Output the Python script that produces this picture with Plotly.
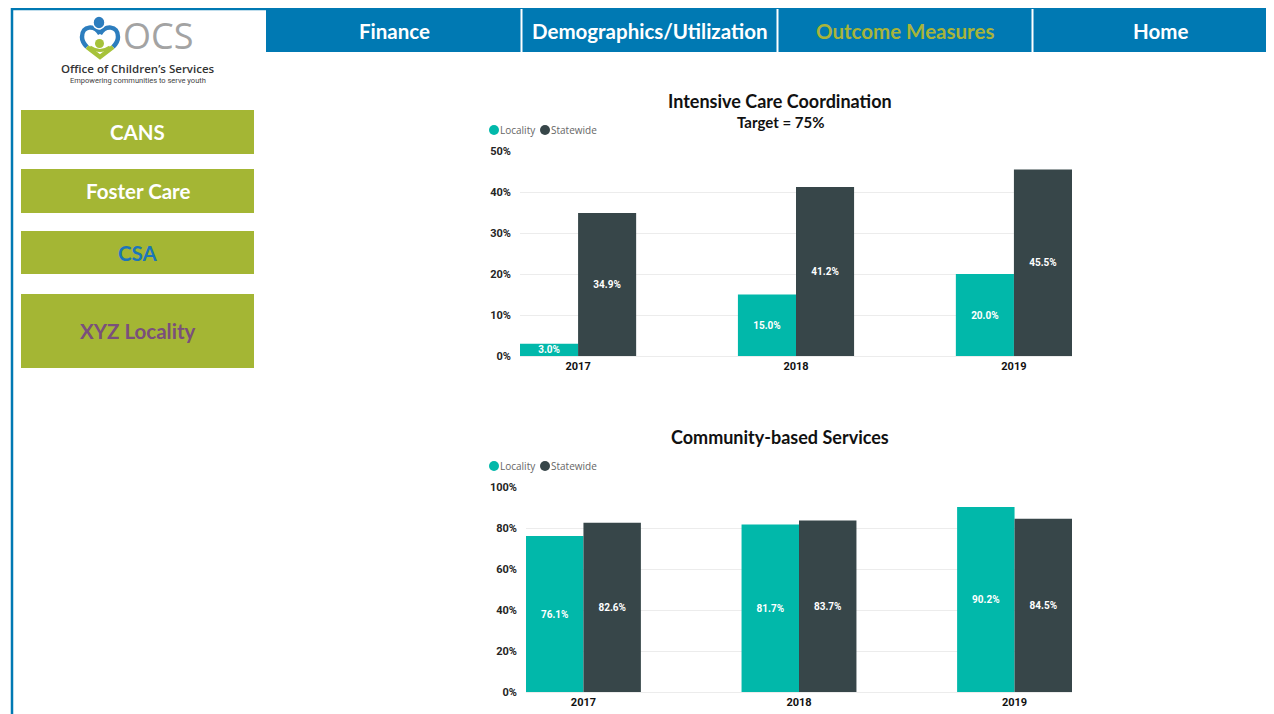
import plotly.graph_objects as go

W, H = 1274, 714
OX, OY = 8, 8  # page body margin offset

years = ["2017", "2018", "2019"]
icc_locality = [3.0, 15.0, 20.0]
icc_statewide = [34.9, 41.2, 45.5]
cbs_locality = [76.1, 81.7, 90.2]
cbs_statewide = [82.6, 83.7, 84.5]

nav_labels = ["Finance", "Demographics/Utilization", "Outcome Measures", "Home"]
side_labels = ["CANS", "Foster Care", "CSA", "XYZ Locality"]

TEAL = "#01B8AA"
DARK = "#374649"
NAVBLUE = "#0079B3"
OLIVE = "#A4B634"
BODYFONT = "Lato, Open Sans, sans-serif"
NUMFONT = "Roboto, sans-serif"


def X(px):
    return (px - OX) / W


def Y(py):
    return 1 - (py - OY) / H


def path(cmds):
    out = []
    for c in cmds:
        if isinstance(c, str):
            out.append(c)
        else:
            out.append(f"{X(c[0]):.5f},{Y(c[1]):.5f}")
    return " ".join(out)


fig = go.Figure()

label_font = dict(family=NUMFONT, size=10, color="white", weight="bold")


def add_bars(xa, ya, loc, sw):
    for name, vals, col in [("Locality", loc, TEAL), ("Statewide", sw, DARK)]:
        fig.add_trace(go.Bar(
            x=years, y=vals, name=name, marker=dict(color=col, line=dict(width=0)),
            texttemplate="%{y:.1f}%", textposition="inside", insidetextanchor="middle",
            textangle=0, insidetextfont=label_font, xaxis=xa, yaxis=ya,
            showlegend=False, hoverinfo="skip", cliponaxis=False,
        ))


add_bars("x", "y", icc_locality, icc_statewide)
add_bars("x2", "y2", cbs_locality, cbs_statewide)

tickfont = dict(family=NUMFONT, size=11, color="#252525", weight="bold")
xcommon = dict(type="category", categoryorder="array", categoryarray=years,
               range=[-0.2665, 2.2665], showgrid=False, showline=False, ticks="",
               tickfont=dict(family=NUMFONT, size=11, color="#111", weight="bold"),
               ticklabelstandoff=2, fixedrange=True, automargin=False)
ycommon = dict(showgrid=True, gridcolor="#ECECEC", gridwidth=1, zeroline=True,
               zerolinecolor="#ECECEC", zerolinewidth=1, showline=False, ticks="",
               ticksuffix="%", tickfont=tickfont, ticklabelstandoff=8, fixedrange=True,
               automargin=False)

fig.update_layout(
    width=W, height=H, margin=dict(l=0, r=0, t=0, b=0, pad=0, autoexpand=False),
    paper_bgcolor="white", plot_bgcolor="white",
    barmode="group", bargap=0.467, bargroupgap=0,
    uniformtext=dict(minsize=10, mode="show"),
    showlegend=False,
    xaxis=dict(domain=[X(520), X(1072)], anchor="y", **xcommon),
    yaxis=dict(domain=[Y(356), Y(151)], anchor="x", range=[0, 50], dtick=10, **ycommon),
    xaxis2=dict(domain=[X(526), X(1072)], anchor="y2", **xcommon),
    yaxis2=dict(domain=[Y(692), Y(487)], anchor="x2", range=[0, 100], dtick=20, **ycommon),
)

shapes = []
annotations = []

# outer border
shapes.append(dict(type="line", xref="paper", yref="paper", x0=X(12), x1=X(12), y0=Y(8), y1=Y(730),
                   line=dict(color=NAVBLUE, width=2.5)))
shapes.append(dict(type="line", xref="paper", yref="paper", x0=X(11), x1=X(268), y0=Y(9), y1=Y(9),
                   line=dict(color=NAVBLUE, width=2.5)))

# nav bar
shapes.append(dict(type="rect", xref="paper", yref="paper", x0=X(266), x1=X(1290), y0=Y(52), y1=Y(8),
                   fillcolor=NAVBLUE, line=dict(width=0), layer="below"))
for sx in [521.5, 777.5, 1032.5]:
    shapes.append(dict(type="line", xref="paper", yref="paper", x0=X(sx), x1=X(sx), y0=Y(52), y1=Y(9),
                       line=dict(color="white", width=2)))
nav_centers = [394, 650, 905, 1160]
nav_colors = ["white", "white", "#A8B43A", "white"]
for lab, cx, col in zip(nav_labels, nav_centers, nav_colors):
    annotations.append(dict(text=lab, x=X(cx), y=Y(31), xref="paper", yref="paper", showarrow=False,
                            xanchor="center", yanchor="middle",
                            font=dict(family=BODYFONT, size=20.5, color=col, weight="bold")))

# side buttons
side_boxes = [(110, 154), (169, 213), (231, 274), (294, 368)]
side_colors = ["white", "white", "#1B75BB", "#7A4F7C"]
for (t, b), lab, col in zip(side_boxes, side_labels, side_colors):
    shapes.append(dict(type="rect", xref="paper", yref="paper", x0=X(21), x1=X(254), y0=Y(b), y1=Y(t),
                       fillcolor=OLIVE, line=dict(width=0), layer="below"))
    annotations.append(dict(text=lab, x=X(137.5), y=Y((t + b) / 2), xref="paper", yref="paper",
                            showarrow=False, xanchor="center", yanchor="middle",
                            font=dict(family=BODYFONT, size=20.5, color=col, weight="bold")))

# logo
BLUE_L = "#2C7DBE"
GREEN_L = "#A6C23A"
heart_top = path(["M", (100, 34), "C", (95, 25), (82, 25), (82, 37), "C", (82, 41), (84, 44), (87, 47)])
heart_top2 = path(["M", (100, 34), "C", (105, 25), (118, 25), (118, 37), "C", (118, 41), (116, 44), (113, 47)])
shapes.append(dict(type="path", xref="paper", yref="paper", path=heart_top,
                   line=dict(color=BLUE_L, width=4.5)))
shapes.append(dict(type="path", xref="paper", yref="paper", path=heart_top2,
                   line=dict(color=BLUE_L, width=4.5)))
shapes.append(dict(type="path", xref="paper", yref="paper",
                   path=path(["M", (87, 47), "L", (100, 57), "L", (113, 47)]),
                   line=dict(color=GREEN_L, width=4.5)))
shapes.append(dict(type="circle", xref="paper", yref="paper", x0=X(93), x1=X(105), y0=Y(29), y1=Y(16),
                   fillcolor=BLUE_L, line=dict(color="white", width=1.5)))
shapes.append(dict(type="circle", xref="paper", yref="paper", x0=X(95), x1=X(104), y0=Y(48), y1=Y(39),
                   fillcolor=GREEN_L, line=dict(width=0)))
shapes.append(dict(type="path", xref="paper", yref="paper",
                   path=path(["M", (90, 47), "Q", (100, 54), (110, 47)]),
                   line=dict(color=GREEN_L, width=3)))
annotations.append(dict(text="OCS", x=X(158), y=Y(36), xref="paper", yref="paper", showarrow=False,
                        xanchor="center", yanchor="middle", borderpad=0,
                        font=dict(family="Open Sans, sans-serif", size=36, color="#A3A3A3")))
annotations.append(dict(text="Office of Children\u2019s Services", x=X(138), y=Y(68), xref="paper",
                        yref="paper", showarrow=False, xanchor="center", yanchor="middle", borderpad=0,
                        font=dict(family="Open Sans, sans-serif", size=11.5, color="#333", weight=600)))
annotations.append(dict(text="Empowering communities to serve youth", x=X(138), y=Y(80.5), xref="paper",
                        yref="paper", showarrow=False, xanchor="center", yanchor="middle", borderpad=0,
                        font=dict(family="Liberation Sans Narrow, Roboto, sans-serif", size=7.5, color="#444")))

# chart titles
annotations.append(dict(text="Intensive Care Coordination", x=X(780), y=Y(101), xref="paper", yref="paper",
                        showarrow=False, xanchor="center", yanchor="middle",
                        font=dict(family=BODYFONT, size=18, color="#111", weight="bold")))
annotations.append(dict(text="Target = 75%", x=X(780), y=Y(122), xref="paper", yref="paper",
                        showarrow=False, xanchor="center", yanchor="middle",
                        font=dict(family=BODYFONT, size=15, color="#111", weight="bold")))
annotations.append(dict(text="Community-based Services", x=X(780), y=Y(437), xref="paper", yref="paper",
                        showarrow=False, xanchor="center", yanchor="middle",
                        font=dict(family=BODYFONT, size=18, color="#111", weight="bold")))

# legends
for ly in [130, 466]:
    for cx, col, lab in [(494, TEAL, "Locality"), (545, DARK, "Statewide")]:
        shapes.append(dict(type="circle", xref="paper", yref="paper", x0=X(cx - 5), x1=X(cx + 5),
                           y0=Y(ly + 5), y1=Y(ly - 5), fillcolor=col, line=dict(width=0)))
        annotations.append(dict(text=lab, x=X(cx + 5), y=Y(ly), xref="paper", yref="paper",
                                showarrow=False, xanchor="left", yanchor="middle", borderpad=0,
                                font=dict(family="Open Sans, sans-serif", size=10, color="#666")))

fig.update_layout(shapes=shapes, annotations=annotations)

fig.write_html("out.html")
